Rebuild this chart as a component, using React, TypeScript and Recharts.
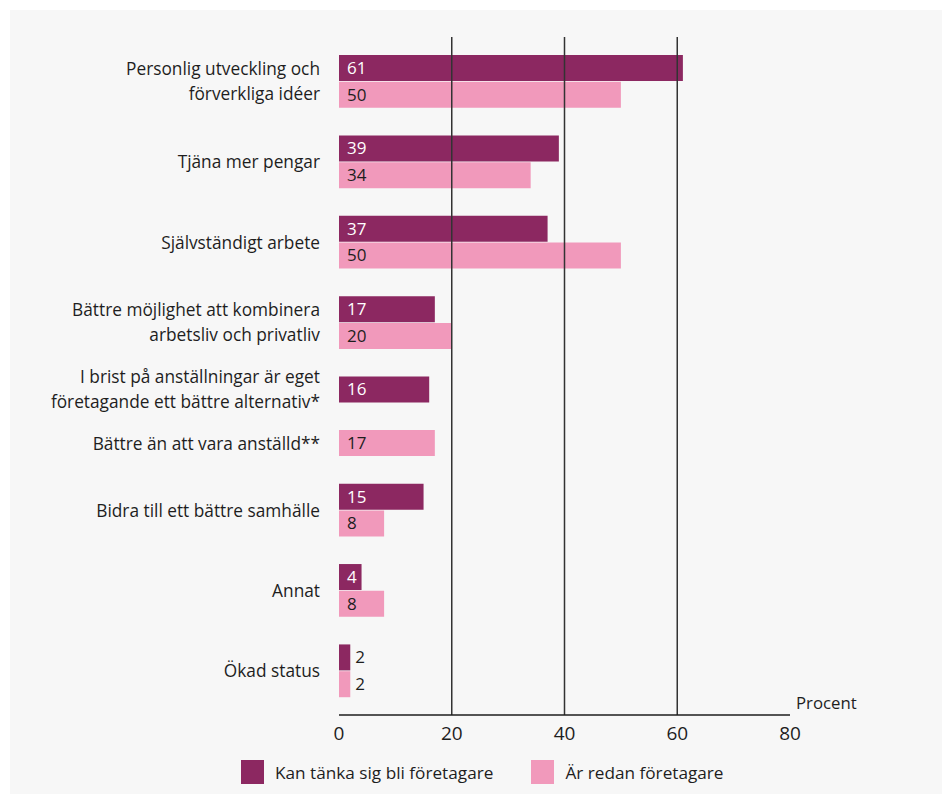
import React from 'react';
import { BarChart, Bar, XAxis, YAxis, ReferenceLine, LabelList } from 'recharts';

const categories: string[] = [
  'Personlig utveckling och\nförverkliga idéer',
  'Tjäna mer pengar',
  'Självständigt arbete',
  'Bättre möjlighet att kombinera\narbetsliv och privatliv',
  'I brist på anställningar är eget\nföretagande ett bättre alternativ*',
  'Bättre än att vara anställd**',
  'Bidra till ett bättre samhälle',
  'Annat',
  'Ökad status',
];

const kanTanka: (number | null)[] = [61, 39, 37, 17, 16, null, 15, 4, 2];
const redan: (number | null)[] = [50, 34, 50, 20, null, 17, 8, 8, 2];

const seriesNames = ['Kan tänka sig bli företagare', 'Är redan företagare'];
const xTicks = [0, 20, 40, 60, 80];
const gridValues = [20, 40, 60];

const DARK = '#8c2861';
const PINK = '#f199bb';
const TEXT = '#1e1e1e';
const FONT = '"Open Sans", "Noto Sans", sans-serif';
const HALF_SLOT = 13.4;

type Row = { slot: string; a: number | null; b: number | null; label: string; offset: number; show: boolean };

const rows: Row[] = [];
categories.forEach((cat, i) => {
  const both = kanTanka[i] != null && redan[i] != null;
  let first = true;
  if (kanTanka[i] != null) {
    rows.push({ slot: `${i}a`, a: kanTanka[i], b: null, label: cat, offset: both ? HALF_SLOT : 0, show: first });
    first = false;
  }
  if (redan[i] != null) {
    rows.push({ slot: `${i}b`, a: null, b: redan[i], label: cat, offset: 0, show: first });
    first = false;
  }
  if (i < categories.length - 1) {
    rows.push({ slot: `${i}g`, a: null, b: null, label: cat, offset: 0, show: false });
  }
});

const rowBySlot: Record<string, Row> = {};
rows.forEach((r) => (rowBySlot[r.slot] = r));

const CategoryTick = (props: any) => {
  const { y, payload } = props;
  const row = rowBySlot[payload.value];
  if (!row || !row.show) return null;
  const lines = row.label.split('\n');
  const lh = 25;
  const cy = y + row.offset;
  const start = cy - ((lines.length - 1) * lh) / 2;
  return (
    <text x={320} textAnchor="end" fill={TEXT} fontSize={17.3} fontFamily={FONT}>
      {lines.map((l, k) => (
        <tspan key={k} x={320} y={start + k * lh} dy="0.35em">
          {l}
        </tspan>
      ))}
    </text>
  );
};

const makeValueLabel = (inside: string) => (props: any) => {
  const { x, y, width, height, value } = props;
  if (value == null) return null;
  const fits = width > 20;
  return (
    <text
      x={fits ? x + 8 : x + width + 5}
      y={y + height / 2}
      dy="0.35em"
      fill={fits ? inside : TEXT}
      fontSize={17}
      fontFamily={FONT}
    >
      {value}
    </text>
  );
};

const ProcentLabel = (props: any) => {
  const { viewBox } = props;
  return (
    <text x={viewBox.x + viewBox.width + 6} y={viewBox.y - 12} dy="0.35em" fill={TEXT} fontSize={16.8} fontFamily={FONT}>
      Procent
    </text>
  );
};

export default function App() {
  return (
    <div style={{ position: 'absolute', left: 0, top: 0, width: 942, height: 794, background: '#fff' }}>
      <div style={{ position: 'absolute', left: 10, top: 10, width: 932, height: 784, background: '#f7f7f7' }} />
      <div style={{ position: 'absolute', left: 0, top: 0 }}>
        <BarChart
          width={942}
          height={794}
          data={rows}
          layout="vertical"
          margin={{ top: 37, right: 152, bottom: 49, left: 0 }}
          barCategoryGap={0}
        >
          <XAxis
            type="number"
            domain={[0, 80]}
            ticks={xTicks}
            tickLine={false}
            axisLine={{ stroke: TEXT, strokeWidth: 1.6 }}
            tick={{ fill: TEXT, fontSize: 19, fontFamily: FONT }}
            tickMargin={6}
            height={30}
            label={<ProcentLabel />}
          />
          <YAxis
            type="category"
            dataKey="slot"
            width={339}
            axisLine={false}
            tickLine={false}
            tick={<CategoryTick />}
            interval={0}
            padding={{ top: 18, bottom: 17 }}
          />
          {gridValues.map((v) => (
            <ReferenceLine key={v} x={v} stroke="#333" strokeWidth={1.5} />
          ))}
          <Bar dataKey="a" name={seriesNames[0]} stackId="s" fill={DARK} barSize={26} isAnimationActive={false}>
            <LabelList dataKey="a" content={makeValueLabel('#ffffff')} />
          </Bar>
          <Bar dataKey="b" name={seriesNames[1]} stackId="s" fill={PINK} barSize={26} isAnimationActive={false}>
            <LabelList dataKey="b" content={makeValueLabel(TEXT)} />
          </Bar>
        </BarChart>
      </div>
      <div
        style={{
          position: 'absolute',
          left: 241,
          top: 760,
          display: 'flex',
          alignItems: 'center',
          fontFamily: FONT,
          fontSize: 17.2,
          color: TEXT,
          height: 24,
          whiteSpace: 'nowrap',
        }}
      >
        <span style={{ display: 'inline-block', width: 23, height: 24, background: DARK, marginRight: 11 }} />
        <span style={{ marginRight: 38 }}>{seriesNames[0]}</span>
        <span style={{ display: 'inline-block', width: 23, height: 24, background: PINK, marginRight: 11 }} />
        <span>{seriesNames[1]}</span>
      </div>
    </div>
  );
}
